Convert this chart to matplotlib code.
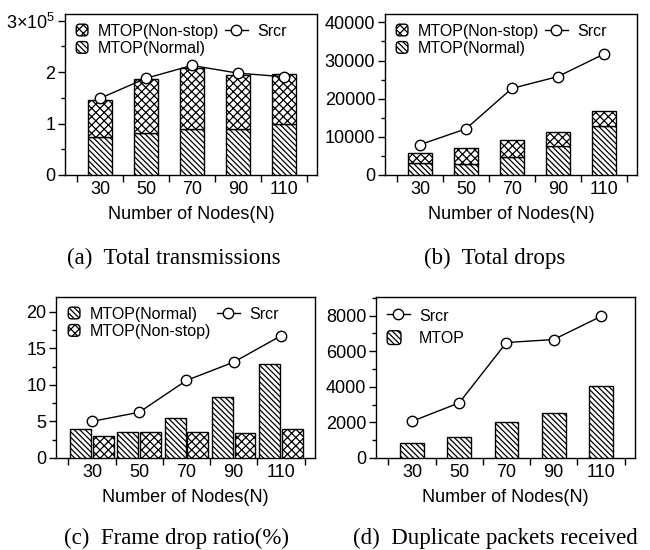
import matplotlib
matplotlib.use("Agg")
import matplotlib.pyplot as plt
from matplotlib.patches import FancyBboxPatch
from matplotlib.legend_handler import HandlerPatch
from matplotlib.ticker import MultipleLocator, FixedLocator, FuncFormatter

plt.rcParams["font.family"] = ["Liberation Sans", "DejaVu Sans"]
plt.rcParams["mathtext.fontset"] = "custom"
plt.rcParams["mathtext.rm"] = "Liberation Sans"
plt.rcParams["hatch.linewidth"] = 0.9
plt.rcParams["axes.linewidth"] = 1.0

# ---------------------------
# Data
# ---------------------------
nodes = [30, 50, 70, 90, 110]

# (a) total transmissions
trans_normal = [0.73e5, 0.81e5, 0.90e5, 0.89e5, 1.00e5]
trans_nonstop = [0.73e5, 1.06e5, 1.18e5, 1.06e5, 0.97e5]
trans_srcr = [1.49e5, 1.88e5, 2.13e5, 1.98e5, 1.91e5]

# (b) total drops
drops_normal = [3100, 2900, 4800, 7600, 12800]
drops_nonstop = [2600, 4100, 4300, 3600, 4000]
drops_srcr = [7950, 12100, 22700, 25800, 31700]

# (c) frame drop ratio (%)
ratio_normal = [4.0, 3.6, 5.45, 8.4, 12.8]
ratio_nonstop = [2.95, 3.6, 3.55, 3.4, 3.95]
ratio_srcr = [5.0, 6.25, 10.6, 13.1, 16.7]

# (d) duplicate packets received
dup_mtop = [850, 1170, 2000, 2510, 4050]
dup_srcr = [2060, 3100, 6490, 6660, 7960]

captions = ["(a)  Total transmissions", "(b)  Total drops",
            "(c)  Frame drop ratio(%)", "(d)  Duplicate packets received"]

NORMAL = "\\" * 6
NONSTOP = "xxxx"
x = list(range(len(nodes)))


def square_handler(at_left=False):
    def make(legend, orig_handle, xdescent, ydescent, width, height, fontsize):
        s = height
        x0 = -xdescent if at_left else -xdescent + width - s
        return FancyBboxPatch((x0, -ydescent), s, s,
                              boxstyle="round,pad=0,rounding_size=2.5")
    return HandlerPatch(patch_func=make)


def srcr_line(ax, vals):
    ax.plot(x, vals, color="black", lw=1.0, marker="o", ms=7.5,
            mfc="white", mec="black", mew=1.0, label="Srcr", zorder=5)


def bar(ax, xs, vals, w, hatch, label, bottom=None):
    bc = ax.bar(xs, vals, w, bottom=bottom, color="white", edgecolor="black",
                hatch=hatch, lw=1.0, label=label, zorder=3)
    return bc[0]  # first rectangle used as legend handle


def style(ax, ymax, major, minor):
    ax.set_xlim(-0.76, 4.72)
    ax.set_ylim(0, ymax)
    ax.xaxis.set_major_locator(FixedLocator([i - 0.5 for i in range(6)]))
    ax.xaxis.set_major_formatter(FuncFormatter(lambda v, p: ""))
    ax.xaxis.set_minor_locator(FixedLocator(x))
    ax.set_xticklabels([str(n) for n in nodes], minor=True)
    ax.tick_params(axis="x", which="major", direction="out", length=5, width=1)
    ax.tick_params(axis="x", which="minor", length=0, labelsize=13, pad=4)
    ax.yaxis.set_major_locator(MultipleLocator(major))
    ax.yaxis.set_minor_locator(MultipleLocator(minor))
    ax.tick_params(axis="y", which="major", direction="out", length=5, width=1,
                   labelsize=13, pad=2)
    ax.tick_params(axis="y", which="minor", direction="out", length=3, width=1)
    ax.set_xlabel("Number of Nodes(N)", fontsize=13, labelpad=6)


def legend(ax, handles, labels, dx):
    ax.legend(handles, labels, ncol=2, loc="upper left", frameon=False,
              bbox_to_anchor=(dx, 1.0), fontsize=11.5, handlelength=1.4,
              handleheight=0.75, handletextpad=0.6, columnspacing=0.4,
              borderaxespad=0.2, labelspacing=0.15,
              handler_map={type(handles[0]): square_handler()})


fig = plt.figure(figsize=(6.5, 5.5), dpi=100)
ax_a = fig.add_axes([65 / 650, 1 - 175 / 550, 252 / 650, 161 / 550])
ax_b = fig.add_axes([385 / 650, 1 - 175 / 550, 252 / 650, 161 / 550])
ax_c = fig.add_axes([56 / 650, 1 - 458 / 550, 259 / 650, 161 / 550])
ax_d = fig.add_axes([376 / 650, 1 - 458 / 550, 259 / 650, 161 / 550])

# (a)
r1 = bar(ax_a, x, trans_normal, 0.52, NORMAL, "MTOP(Normal)")
r2 = bar(ax_a, x, trans_nonstop, 0.52, NONSTOP, "MTOP(Non-stop)", bottom=trans_normal)
srcr_line(ax_a, trans_srcr)
style(ax_a, 3.13e5, 1e5, 0.5e5)
ax_a.yaxis.set_major_formatter(FuncFormatter(
    lambda v, p: "3×10$^{5}$" if v >= 2.9e5 else f"{v / 1e5:.0f}"))
ln = ax_a.get_lines()[0]
legend(ax_a, [r2, r1, ln], ["MTOP(Non-stop)", "MTOP(Normal)", "Srcr"], -9 / 252)

# (b)
r1 = bar(ax_b, x, drops_normal, 0.52, NORMAL, "MTOP(Normal)")
r2 = bar(ax_b, x, drops_nonstop, 0.52, NONSTOP, "MTOP(Non-stop)", bottom=drops_normal)
srcr_line(ax_b, drops_srcr)
style(ax_b, 42200, 10000, 5000)
ln = ax_b.get_lines()[0]
legend(ax_b, [r2, r1, ln], ["MTOP(Non-stop)", "MTOP(Normal)", "Srcr"], -9 / 252)

# (c)
r1 = bar(ax_c, [i - 0.24 for i in x], ratio_normal, 0.44, NORMAL, "MTOP(Normal)")
r2 = bar(ax_c, [i + 0.24 for i in x], ratio_nonstop, 0.44, NONSTOP, "MTOP(Non-stop)")
srcr_line(ax_c, ratio_srcr)
style(ax_c, 22, 5, 2.5)
ln = ax_c.get_lines()[0]
legend(ax_c, [r1, r2, ln], ["MTOP(Normal)", "MTOP(Non-stop)", "Srcr"], -8 / 259)

# (d)
r1 = bar(ax_d, x, dup_mtop, 0.5, NORMAL, "MTOP")
srcr_line(ax_d, dup_srcr)
style(ax_d, 9050, 2000, 1000)
ln = ax_d.get_lines()[0]
ax_d.legend([ln, r1], ["Srcr", "MTOP"], loc="upper left", frameon=False,
            fontsize=11.5, handlelength=1.4, handleheight=0.95, handletextpad=0.6,
            labelspacing=0.45, borderaxespad=0.3,
            handler_map={type(r1): square_handler(at_left=True)})

cap_kw = dict(fontsize=16.5, family=["Liberation Serif", "DejaVu Serif"],
              ha="center", va="center")
fig.text(174 / 650, 1 - 258 / 550, captions[0], **cap_kw)
fig.text(495 / 650, 1 - 258 / 550, captions[1], **cap_kw)
fig.text(177 / 650, 1 - 538 / 550, captions[2], **cap_kw)
fig.text(495 / 650, 1 - 538 / 550, captions[3], **cap_kw)

fig.savefig("out.png", dpi=100)
